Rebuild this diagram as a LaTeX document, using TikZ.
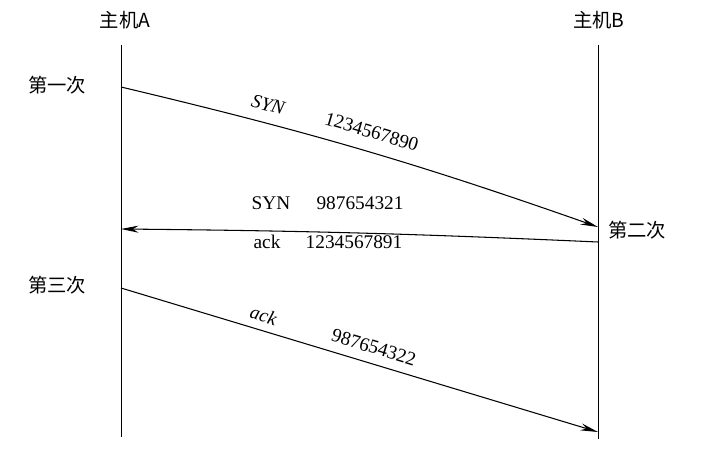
\documentclass[tikz,border=0pt]{standalone}
\usepackage{fontspec}
\setmainfont{Liberation Serif}
\newfontfamily\cjk{Noto Sans CJK SC}
\usetikzlibrary{arrows.meta}
\begin{document}
\begin{tikzpicture}[x=0.02cm,y=-0.02cm,
  msg/.style={semithick,-{Stealth[length=10pt,width=4pt]}},
  life/.style={thin},
  lbl/.style={font=\fontsize{11}{13}\selectfont},
  zh/.style={font=\cjk\fontsize{11}{13}\selectfont}]
\useasboundingbox (0,0) rectangle (716,463);
% lifelines
\coordinate (atop) at (121,45);
\coordinate (abot) at (121,437);
\coordinate (btop) at (598,45);
\coordinate (bbot) at (598,439);
\draw [life] (atop) -- (abot);
\draw [life] (btop) -- (bbot);
\node [zh] (hosta) at (125,20) {主机A};
\node [zh] (hostb) at (599,20) {主机B};
% first
\coordinate (s1) at (121,87);
\coordinate (e1) at (598,227);
\node [zh] (first) at (57,85) {第一次};
\draw [msg] (s1) to [bend left=3]
  node [lbl, pos=0.28, above=3pt, sloped] (syn1) {\itshape SYN}
  node [lbl, pos=0.51, above=4pt, sloped] (seq1) {1234567890} (e1);
% second
\coordinate (s2) at (598,242);
\coordinate (e2) at (121,229);
\node [zh] (second) at (637,230) {第二次};
\draw [msg] (s2) to [bend right=1] (e2);
\node [lbl] (syn2) at (271,203) {SYN};
\node [lbl] (seq2) at (360,203) {987654321};
\node [lbl] (ack2) at (267,242) {ack};
\node [lbl] (num2) at (354,242) {1234567891};
% third
\coordinate (s3) at (121,288);
\coordinate (e3) at (598,432);
\node [zh] (third) at (57,285) {第三次};
\draw [msg] (s3) --
  node [lbl, pos=0.29, above=1pt, sloped] (ack3) {\itshape ack}
  node [lbl, pos=0.52, above=2pt, sloped] (seq3) {987654322} (e3);
\end{tikzpicture}
\end{document}
